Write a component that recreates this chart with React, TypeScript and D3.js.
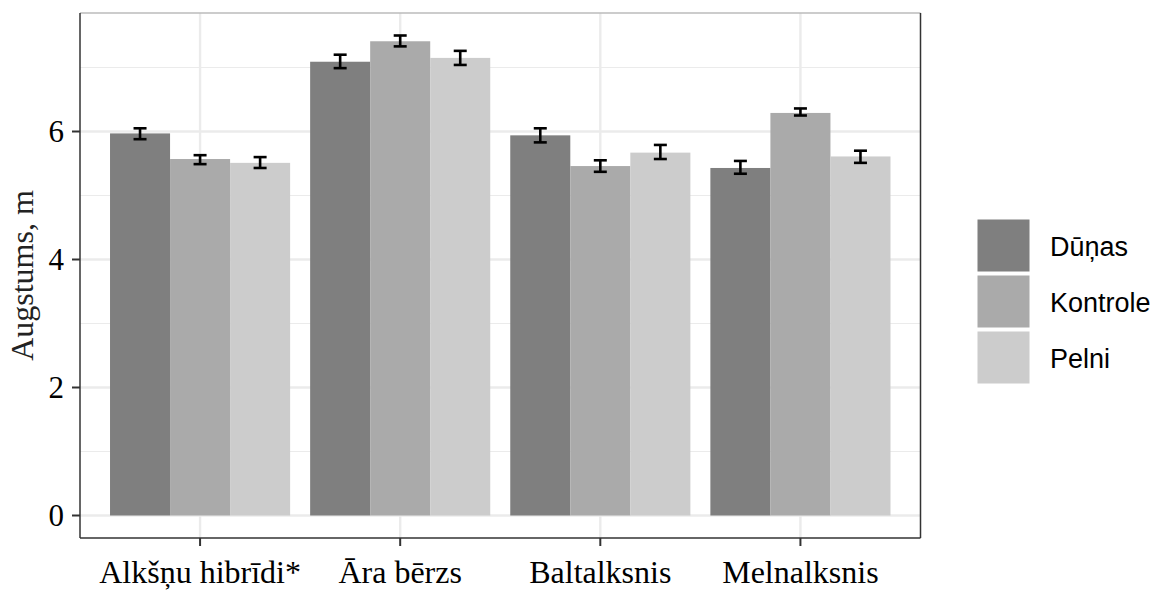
import React from "react";
import * as d3 from "d3";

const categories = ["Alkšņu hibrīdi*", "Āra bērzs", "Baltalksnis", "Melnalksnis"];
const groups = ["Dūņas", "Kontrole", "Pelni"];
const colors = ["#7f7f7f", "#aaaaaa", "#cccccc"];
const means = [
  [5.97, 5.57, 5.51],
  [7.09, 7.41, 7.15],
  [5.94, 5.46, 5.67],
  [5.43, 6.29, 5.61],
];
const lows = [
  [5.88, 5.49, 5.43],
  [6.99, 7.33, 7.04],
  [5.83, 5.37, 5.57],
  [5.34, 6.25, 5.51],
];
const highs = [
  [6.05, 5.63, 5.6],
  [7.2, 7.5, 7.26],
  [6.05, 5.55, 5.79],
  [5.54, 6.36, 5.7],
];
const yTicks = [0, 2, 4, 6];
const yMinor = [1, 3, 5, 7];

export default function App() {
  const W = 1160, H = 590;
  const left = 80, right = 920.5, top = 13, bottom = 538;
  const x = d3.scalePoint<string>().domain(categories).range([left, right]).padding(0.6);
  const step = x.step();
  const groupW = step * 0.9;
  const barW = groupW / groups.length;
  const y = d3.scaleLinear().domain([0, 6]).range([515.5, 131.5]);
  const serif = "'Liberation Serif', 'Times New Roman', serif";
  const sans = "'Liberation Sans', Arial, sans-serif";
  return (
    <svg width={W} height={H} style={{ position: "absolute", left: 0, top: 0 }}>
      <rect x={0} y={0} width={W} height={H} fill="#fff" />
      {yMinor.map((v) => (
        <line key={"mn" + v} x1={left} x2={right} y1={y(v)} y2={y(v)} stroke="#ebebeb" strokeWidth={1.2} />
      ))}
      {yTicks.map((v) => (
        <line key={"mj" + v} x1={left} x2={right} y1={y(v)} y2={y(v)} stroke="#ebebeb" strokeWidth={2.4} />
      ))}
      {categories.map((c) => (
        <line key={"vx" + c} x1={x(c)} x2={x(c)} y1={top} y2={bottom} stroke="#ebebeb" strokeWidth={2.4} />
      ))}
      {categories.map((c, i) =>
        groups.map((g, j) => {
          const bx = (x(c) as number) - groupW / 2 + j * barW;
          return (
            <rect key={c + g} x={bx} y={y(means[i][j])} width={barW} height={y(0) - y(means[i][j])} fill={colors[j]} />
          );
        })
      )}
      {categories.map((c, i) =>
        groups.map((g, j) => {
          const cx = (x(c) as number) - groupW / 2 + (j + 0.5) * barW;
          const hw = 6.5;
          return (
            <g key={"e" + c + g} stroke="#000" strokeWidth={2.6}>
              <line x1={cx} x2={cx} y1={y(lows[i][j])} y2={y(highs[i][j])} />
              <line x1={cx - hw} x2={cx + hw} y1={y(lows[i][j])} y2={y(lows[i][j])} />
              <line x1={cx - hw} x2={cx + hw} y1={y(highs[i][j])} y2={y(highs[i][j])} />
            </g>
          );
        })
      )}
      <line x1={left} x2={right} y1={top} y2={top} stroke="#bbbbbb" strokeWidth={1.5} />
      <line x1={right} x2={right} y1={top} y2={bottom} stroke="#333" strokeWidth={1.5} />
      <line x1={left} x2={left} y1={top} y2={bottom} stroke="#333" strokeWidth={1.5} />
      <line x1={left} x2={right} y1={bottom} y2={bottom} stroke="#333" strokeWidth={1.5} />
      {yTicks.map((v) => (
        <g key={"yt" + v}>
          <line x1={72} x2={left} y1={y(v)} y2={y(v)} stroke="#333" strokeWidth={2} />
          <text x={64} y={y(v)} dy="0.34em" textAnchor="end" fontFamily={serif} fontSize={31} fill="#000">
            {v}
          </text>
        </g>
      ))}
      {categories.map((c) => (
        <g key={"xt" + c}>
          <line x1={x(c)} x2={x(c)} y1={bottom} y2={bottom + 8} stroke="#333" strokeWidth={2} />
          <text x={x(c)} y={583} textAnchor="middle" fontFamily={serif} fontSize={32} fill="#000">
            {c}
          </text>
        </g>
      ))}
      <text
        transform={`translate(33, ${(top + bottom) / 2}) rotate(-90)`}
        textAnchor="middle"
        fontFamily={serif}
        fontSize={32}
        fill="#222"
      >
        Augstums, m
      </text>
      {groups.map((g, j) => (
        <g key={"lg" + g}>
          <rect x={977.5} y={219.5 + j * 56} width={52} height={52} fill={colors[j]} />
          <text x={1050} y={246.5 + j * 56} dy="0.35em" fontFamily={sans} fontSize={27} fill="#000">
            {g}
          </text>
        </g>
      ))}
    </svg>
  );
}
